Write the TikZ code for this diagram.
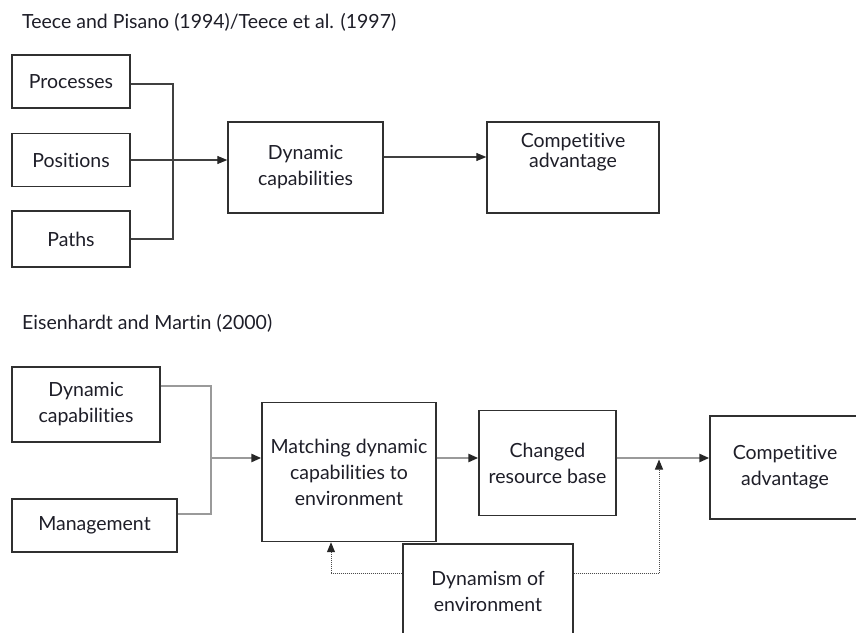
\documentclass[tikz,border=0pt]{standalone}
\usepackage{fontspec}
\setmainfont{Lato}[Ligatures=NoCommon]
\usetikzlibrary{arrows.meta}

\definecolor{ink}{HTML}{1E1E28}
\definecolor{frame}{HTML}{303030}
\definecolor{feed}{HTML}{9A9A9A}

\tikzset{
  box/.style={draw=frame, line width=1.4pt, fill=white, inner sep=0pt,
              align=center, font=\fontsize{19.5}{26}\selectfont, text=ink},
  heading/.style={anchor=west, inner sep=0pt, font=\fontsize{19.5}{24}\selectfont, text=ink},
  thinline/.style={draw=black!75, line width=1.1pt},
  thickline/.style={draw=feed, line width=2.4pt},
  tip/.style={-{Triangle[length=10pt,width=8pt,color=black!85]}},
  dotline/.style={draw=black!70, line width=1pt, dash pattern=on 1pt off 1pt}
}

\begin{document}
\begin{tikzpicture}[x=1pt,y=-1pt]
\useasboundingbox (0,0) rectangle (856,632);
\clip (0,0) rectangle (856,632);

% ---------------- Teece and Pisano / Teece et al. ----------------
\node[heading] (t1) at (22,22) {Teece and Pisano (1994)/Teece et al. (1997)};

\node[box, minimum width=118pt, minimum height=53pt] (proc) at (71,81.5) {Processes};
\node[box, minimum width=118pt, minimum height=53pt] (pos)  at (71,160)  {Positions};
\node[box, minimum width=118pt, minimum height=56pt] (path) at (71,239)  {Paths};

\node[box, minimum width=155pt, minimum height=91pt] (dyn) at (305.5,167.5)
  {Dynamic\\capabilities};
\node[box, minimum width=172pt, minimum height=91pt] (comp) at (573,167.5) {};
\node[inner sep=0pt, align=center, font=\fontsize{19.5}{20}\selectfont, text=ink]
  (compTxt) at (573,152) {Competitive\\advantage};

\coordinate (jt) at (173,84);
\draw[thinline] (proc.east |- jt) -- (jt) -- (jt |- path.east) -- (path.east);
\draw[thinline, tip] (pos.east) -- (pos.east -| dyn.west);
\draw[thinline, tip] ([yshift=10.5pt]dyn.east) -- ([yshift=10.5pt]dyn.east -| comp.west);

% ---------------- Eisenhardt and Martin ----------------
\node[heading] (t2) at (22,323) {Eisenhardt and Martin (2000)};

\node[box, minimum width=148pt, minimum height=75pt] (dc) at (86,404.5)
  {Dynamic\\capabilities};
\node[box, minimum width=165pt, minimum height=53pt] (mgmt) at (94.5,525.5)
  {Management};

\node[box, minimum width=174pt, minimum height=139pt] (match) at (349,472)
  {Matching dynamic\\capabilities to\\environment};
\node[box, minimum width=137pt, minimum height=105pt] (chg) at (547.5,463)
  {Changed\\resource base};
\node[box, minimum width=150pt, minimum height=103pt] (comp2) at (785,467.5)
  {Competitive\\advantage};
\node[box, minimum width=170pt, minimum height=94pt] (env) at (488,591)
  {Dynamism of\\environment};

\coordinate (jb) at (211,386);
\coordinate (jm) at (211,514);
\coordinate (axis) at (211,458);
\draw[thickline] (dc.east |- jb) -- (jb) -- (jm) -- (jm -| mgmt.east);
\draw[thickline, tip] (axis) -- (axis -| match.west);
\draw[thickline, tip] (match.east |- axis) -- (chg.west |- axis);
\draw[thickline, tip] (chg.east |- axis) -- (comp2.west |- axis);

\coordinate (fbL) at (331,573);
\coordinate (fbR) at (659,573);
\draw[dotline] (env.west |- fbL) -- (fbL);
\draw[dotline, -{Triangle[length=10pt,width=8pt,color=black!85]}]
  (fbL) -- (fbL |- match.south);
\draw[dotline] (env.east |- fbR) -- (fbR);
\draw[dotline, -{Triangle[length=10pt,width=8pt,color=black!85]}, shorten >=1.5pt]
  (fbR) -- (fbR |- axis);
\end{tikzpicture}
\end{document}
